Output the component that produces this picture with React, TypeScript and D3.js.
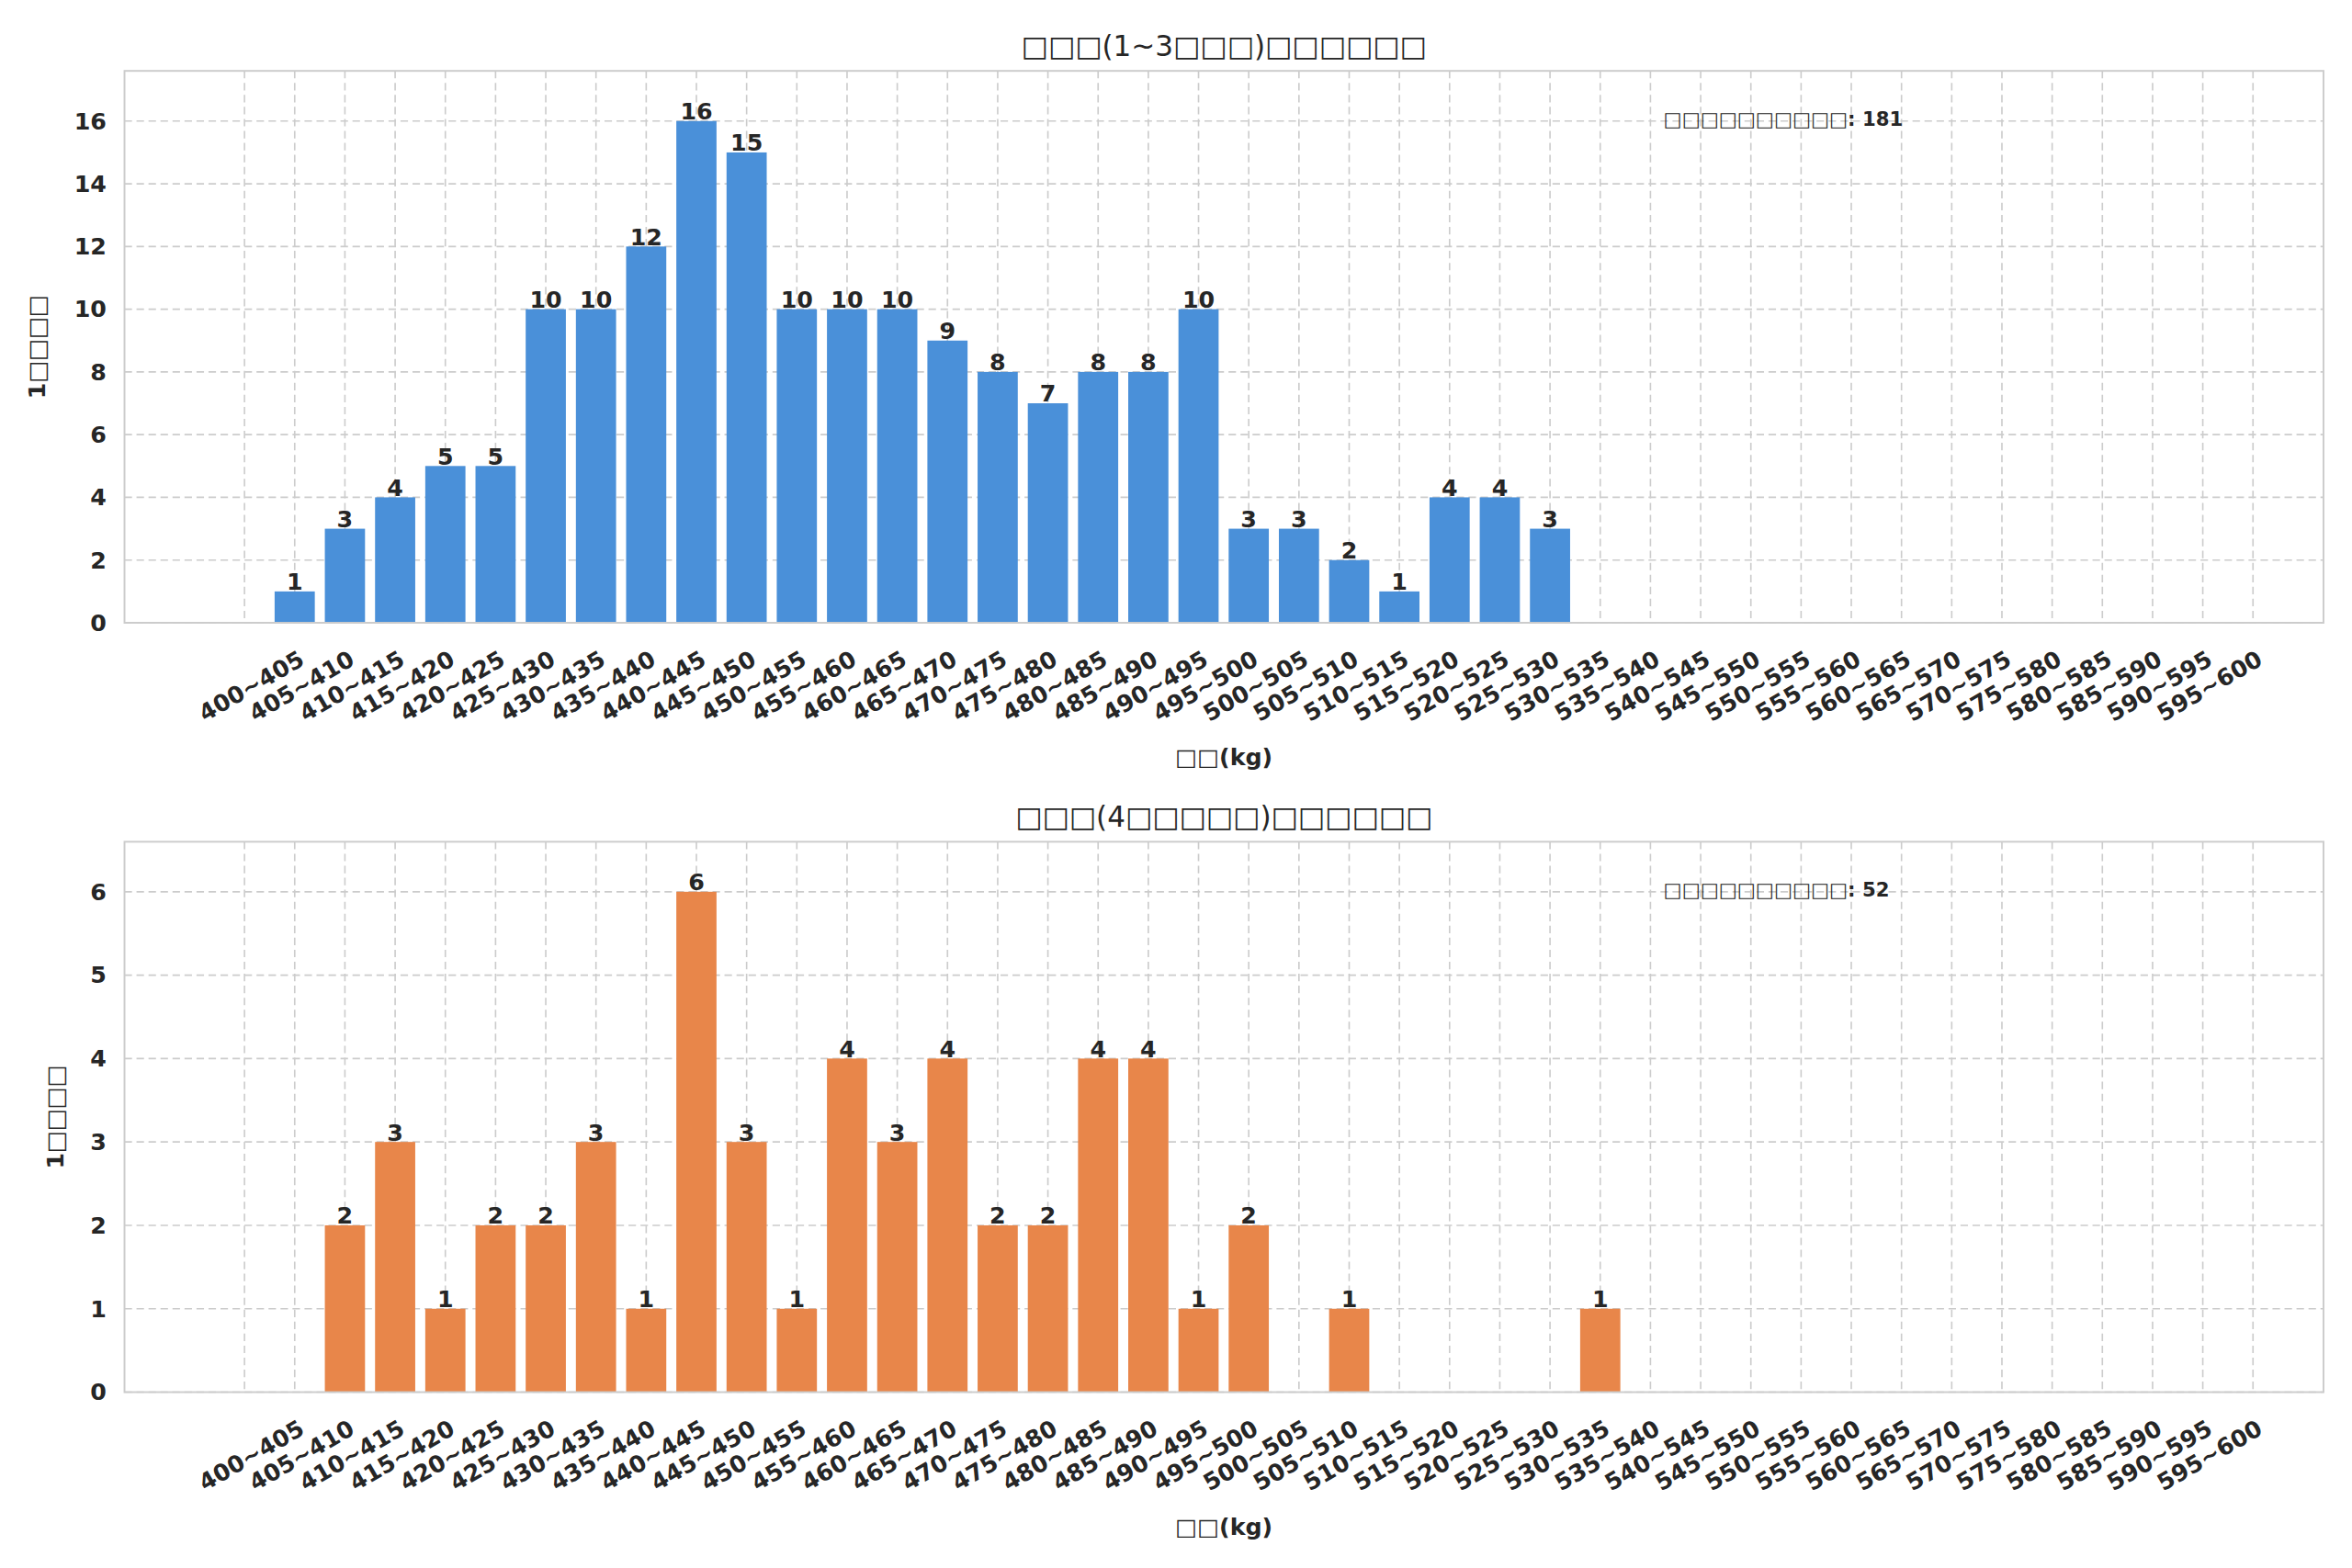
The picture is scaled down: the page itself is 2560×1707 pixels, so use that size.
import React, { useEffect, useRef } from "react";
import * as d3 from "d3";

const categories = d3.range(400, 600, 5).map((v) => `${v}~${v + 5}`);
const topValues = [1, 3, 4, 5, 5, 10, 10, 12, 16, 15, 10, 10, 10, 9, 8, 7, 8, 8, 10, 3, 3, 2, 1, 4, 4, 3];
const bottomValues = [0, 2, 3, 1, 2, 2, 3, 1, 6, 3, 1, 4, 3, 4, 2, 2, 4, 4, 1, 2, 0, 1, 0, 0, 0, 0, 1];
const topTitle = "□□□(1~3□□□)□□□□□□";
const bottomTitle = "□□□(4□□□□□)□□□□□□";
const yLabel = "1□□□□";
const xLabel = "□□(kg)";
const noteLabel = "□□□□□□□□□□";

const W = 1568;
const H = 1045;

const App: React.FC = () => {
  const svgRef = useRef<SVGSVGElement | null>(null);

  useEffect(() => {
    if (!svgRef.current) return;
    const svg = d3.select(svgRef.current);
    svg.selectAll("*").remove();
    svg.append("rect").attr("width", W).attr("height", H).attr("fill", "white");

    const panels = [
      { values: topValues, title: topTitle, color: "#4a90d9", top: 47, bottom: 415, ymax: 17.6, step: 2, yLabX: 30 },
      { values: bottomValues, title: bottomTitle, color: "#e8864a", top: 561, bottom: 928, ymax: 6.6, step: 1, yLabX: 42 },
    ];
    const left = 83, right = 1549;
    const x = d3.scaleLinear().domain([0, 40]).range([163, 1502]);
    const bw = 33.48 * 0.8;
    const ink = "#262626";
    const font = "DejaVu Sans, sans-serif";

    panels.forEach((p) => {
      const y = d3.scaleLinear().domain([0, p.ymax]).range([p.bottom, p.top]);
      const g = svg.append("g").style("font-family", font);

      // grid
      d3.range(0, 41).forEach((i) => {
        g.append("line").attr("x1", x(i)).attr("x2", x(i)).attr("y1", p.top).attr("y2", p.bottom)
          .attr("stroke", "#cccccc").attr("stroke-dasharray", "5,3");
      });
      d3.range(0, Math.floor(p.ymax) + 1, p.step).forEach((v) => {
        g.append("line").attr("x1", left).attr("x2", right).attr("y1", y(v)).attr("y2", y(v))
          .attr("stroke", "#cccccc").attr("stroke-dasharray", "5,3");
        g.append("text").attr("x", left - 12).attr("y", y(v)).attr("dy", "0.35em")
          .attr("text-anchor", "end").attr("font-size", 15.5).attr("font-weight", "bold")
          .attr("fill", ink).text(v);
      });

      // bars
      p.values.forEach((v, i) => {
        if (!v) return;
        const cx = x(i + 1);
        g.append("rect").attr("x", cx - bw / 2).attr("width", bw).attr("y", y(v))
          .attr("height", y(0) - y(v)).attr("fill", p.color);
        g.append("text").attr("x", cx).attr("y", y(v) - 1).attr("text-anchor", "middle")
          .attr("font-size", 15.5).attr("font-weight", "bold").attr("fill", ink).text(v);
      });

      g.append("rect").attr("x", left).attr("y", p.top).attr("width", right - left)
        .attr("height", p.bottom - p.top).attr("fill", "none").attr("stroke", "#cccccc").attr("stroke-width", 1.2);

      // x tick labels
      categories.forEach((c, i) => {
        g.append("text")
          .attr("transform", `translate(${x(i + 1) + 2},${p.bottom + 18}) rotate(-30)`)
          .attr("text-anchor", "end").attr("dy", "0.7em").attr("font-size", 15.5)
          .attr("font-weight", "bold").attr("fill", ink).text(c);
      });

      g.append("text").attr("x", (left + right) / 2).attr("y", p.top - 10).attr("text-anchor", "middle")
        .attr("font-size", 19).attr("fill", ink).text(p.title);
      g.append("text").attr("x", (left + right) / 2).attr("y", p.bottom + 95).attr("text-anchor", "middle")
        .attr("font-size", 15.5).attr("font-weight", "bold").attr("fill", ink).text(xLabel);
      g.append("text").attr("transform", `translate(${p.yLabX},${(p.top + p.bottom) / 2}) rotate(-90)`)
        .attr("text-anchor", "middle").attr("font-size", 15.5).attr("font-weight", "bold")
        .attr("fill", ink).text(yLabel);
      g.append("text").attr("x", 1109).attr("y", p.top + 32).attr("dy", "0.35em")
        .attr("font-size", 13).attr("font-weight", "bold").attr("fill", ink)
        .text(`${noteLabel}: ${d3.sum(p.values)}`);
    });
  }, []);

  return (
    <svg ref={svgRef} viewBox={`0 0 ${W} ${H}`} width={2560} height={1707}
      style={{ display: "block", position: "absolute", left: 0, top: 0 }} />
  );
};

export default App;
